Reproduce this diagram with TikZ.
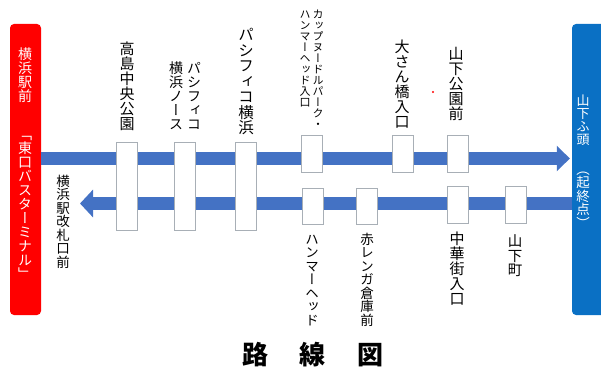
\documentclass[tikz,border=0pt]{standalone}
\usepackage{fontspec}
\setmainfont{Noto Sans CJK JP}
\newfontfamily\vjp[RawFeature=+vert]{Noto Sans CJK JP}
\usetikzlibrary{arrows.meta}
\definecolor{barblue}{HTML}{4472C4}
\definecolor{endblue}{HTML}{0A70C4}
\definecolor{endred}{HTML}{FF0000}
\definecolor{boxgray}{HTML}{A8AFB6}
\newcommand\vfs[1]{\vjp\fontsize{#1}{#1}\selectfont}
\newcommand\vtext[1]{\vtop{\offinterlineskip\vtextaux#1\relax}}
\def\vtextaux#1{\ifx\relax#1\else\hbox to 1em{\hss\vrule height .88em depth .12em width 0pt#1\hss}\expandafter\vtextaux\fi}
\tikzset{
  vlab/.style={anchor=north, inner sep=0pt},
  stationbox/.style={draw=boxgray, fill=white, line width=0.8pt, minimum width=21pt, inner sep=0pt},
  termbox/.style={rounded corners=4pt, inner sep=0pt},
  barline/.style={barblue, line width=13pt},
}
\begin{document}
\begin{tikzpicture}[x=1pt,y=-1pt]
\useasboundingbox (0,0) rectangle (601,371);
% terminals
\node[termbox, fill=endred, minimum width=31pt, minimum height=291pt] (term) at (25.5,169.5) {};
\node[termbox, fill=endblue, minimum width=33pt, minimum height=291pt] (bterm) at (588.5,169.5) {};
% bars
\coordinate (upy) at (0,158.5);
\coordinate (lowy) at (0,203.5);
\coordinate (lowend) at (80,203.5);
\draw[barline, -{Triangle[length=13pt,width=25pt]}, shorten >=2pt] (term.east |- upy) -- (bterm.west |- upy);
\draw[barline, -{Triangle[length=13pt,width=27pt]}] (bterm.west |- lowy) -- (lowend);
% station boxes
\node[stationbox, minimum height=88pt] (s1) at (127,186) {};
\node[stationbox, minimum height=88pt] (s2) at (185,186) {};
\node[stationbox, minimum height=88pt] (s3) at (246,186) {};
\node[stationbox, minimum height=37pt] (s4) at (312,153.5) {};
\node[stationbox, minimum height=37pt] (s5) at (402.5,153.5) {};
\node[stationbox, minimum height=37pt] (s6) at (457.5,153.5) {};
\node[stationbox, minimum height=36pt] (l1) at (313,206) {};
\node[stationbox, minimum height=36pt] (l2) at (367,206) {};
\node[stationbox, minimum height=37pt] (l3) at (457.5,204.5) {};
\node[stationbox, minimum height=37pt] (l4) at (516,204.5) {};
% upper labels
\node[vlab, font=\vfs{15pt}] (t1) at (127,41) {\vtext{高島中央公園}};
\node[vlab, font=\vfs{14pt}] (t2) at (185,61) {\hbox{\vtext{横浜ノース}\hspace{4pt}\vtext{パシフィコ}}};
\node[vlab, font=\vfs{15.5pt}] (t3) at (246,27) {\vtext{パシフィコ横浜}};
\node[vlab, font=\vfs{11pt}] (t4) at (311.5,9) {\hbox{\vtext{ハンマーヘッド入口}\hspace{2pt}\vtext{カップヌードルパーク・}}};
\node[vlab, font=\vfs{15pt}] (t5) at (402,39) {\vtext{大さん橋入口}};
\node[vlab, font=\vfs{15pt}] (t6) at (456,46) {\vtext{山下公園前}};
% lower labels
\node[vlab, font=\vfs{13.5pt}] (b0) at (63,174) {\vtext{横浜駅改札口前}};
\node[vlab, font=\vfs{13.5pt}] (b1) at (312,232) {\vtext{ハンマーヘッド}};
\node[vlab, font=\vfs{13.5pt}] (b2) at (367,232) {\vtext{赤レンガ倉庫前}};
\node[vlab, font=\vfs{15pt}] (b3) at (457,231) {\vtext{中華街入口}};
\node[vlab, font=\vfs{14.5pt}] (b4) at (515,234) {\vtext{山下町}};
% terminal texts
\node[vlab, white, font=\vfs{14pt}] (r1) at (25,47) {\vtext{横浜駅前}};
\node[vlab, white, font=\vfs{14pt}] (r2) at (25,127) {\vtext{「東口バスターミナル」}};
\node[vlab, white, font=\vfs{13pt}] (u1) at (583,94) {\vtext{山下ふ頭}};
\node[vlab, white, font=\vfs{13.5pt}] (u2) at (583,162) {\vtext{（起終点）}};
% stray dot
\fill[endred] (433,92) circle (1.1pt);
% title
\node[font=\bfseries\fontsize{26pt}{28pt}\selectfont, inner sep=0pt] (title) at (313,355) {路\hspace{32pt}線\hspace{32pt}図};
\end{tikzpicture}
\end{document}
